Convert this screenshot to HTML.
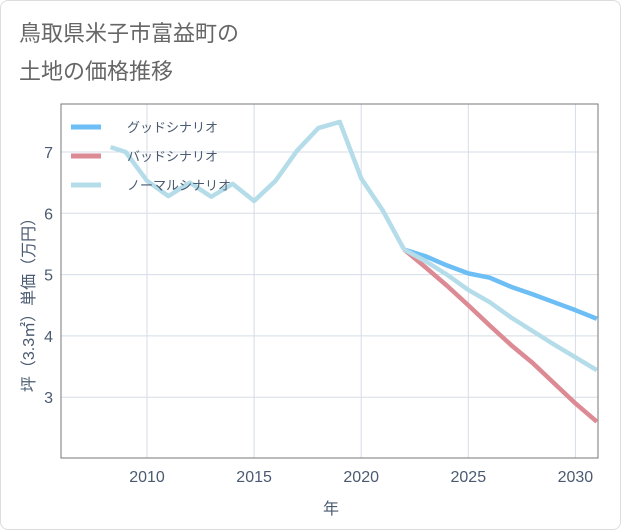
<!DOCTYPE html>
<html><head><meta charset="utf-8"><style>
body{margin:0;background:#fff;font-family:"Liberation Sans","Noto Sans CJK JP",sans-serif}
#wrap{position:relative;width:619px;height:528px;border:1px solid #ddd;border-radius:8px;overflow:hidden}
</style></head><body>
<div id="wrap">
<svg id="c" width="621" height="530"></svg>
</div>
<script>
const years=[2008.3,2009,2010,2011,2012,2013,2014,2015,2016,2017,2018,2019,2020,2021,2022];
const histVals=[7.08,7.0,6.53,6.28,6.5,6.27,6.48,6.2,6.53,7.02,7.39,7.49,6.57,6.05,5.41];
const futYears=[2022,2023,2024,2025,2026,2027,2028,2029,2030,2031];
const goodVals=[5.41,5.3,5.15,5.02,4.95,4.8,4.68,4.55,4.42,4.28];
const badVals=[5.41,5.12,4.82,4.5,4.17,3.85,3.56,3.23,2.9,2.6];
const normVals=[5.41,5.22,5.0,4.75,4.55,4.3,4.08,3.86,3.65,3.44];
const xTicks=[2010,2015,2020,2025,2030];
const yTicks=[3,4,5,6,7];
const L=60,R=597,T=103,B=457;
const X=v=>146+(v-2010)*21.42, Y=v=>151+(7-v)*61.3;
const s=document.getElementById('c'),NS='http://www.w3.org/2000/svg';
function el(t,a,p){const e=document.createElementNS(NS,t);for(const k in a)e.setAttribute(k,a[k]);(p||s).appendChild(e);return e;}
function txt(x,y,str,a){const e=el('text',Object.assign({x,y},a));e.textContent=str;return e;}
const t1=txt(18,40,'鳥取県米子市富益町の',{'font-size':22,fill:'#666'});

const t2=txt(18,78,'土地の価格推移',{'font-size':22,fill:'#666'});

const grid=el('g',{});
xTicks.forEach(v=>{el('line',{x1:X(v),x2:X(v),y1:T,y2:B,stroke:'#d5dde5'},grid);
 const t=txt(X(v),481,v,{'font-size':16,fill:'#4a5a70','text-anchor':'middle'});});
yTicks.forEach(v=>{el('line',{x1:L,x2:R,y1:Y(v),y2:Y(v),stroke:'#d5dde5'},grid);
 const t=txt(52,Y(v)+6,v,{'font-size':16,fill:'#4a5a70','text-anchor':'end'});});
const fr=el('rect',{x:L,y:T,width:R-L,height:B-T,fill:'none',stroke:'#777'});

const cp=el('clipPath',{id:'cp'});el('rect',{x:L,y:T,width:R-L,height:B-T},cp);
function line(xs,vs,col,name){const p=el('polyline',{points:xs.map((x,i)=>X(x)+','+Y(vs[i])).join(' '),fill:'none',stroke:col,'stroke-width':4.5,'stroke-linejoin':'round','clip-path':'url(#cp)'});
 }
line(futYears,goodVals,'#6cbef5','good-scenario-line');
line(futYears,badVals,'#dc8a94','bad-scenario-line');
line(futYears,normVals,'#b5dde9','normal-scenario-line');
line(years,histVals,'#b5dde9','historical-line');
[['グッドシナリオ','#6cbef5'],['バッドシナリオ','#dc8a94'],['ノーマルシナリオ','#b5dde9']].forEach((d,i)=>{
 const g=el('g',{});
 const y=126+i*29;el('line',{x1:70,x2:100,y1:y,y2:y,stroke:d[1],'stroke-width':5},g);
 txt(126,y+5,d[0],{'font-size':13,fill:'#4a5a70'},g).parentNode;});
const xt=txt(330,513,'年',{'font-size':16,fill:'#4a5a70','text-anchor':'middle'});

const yt=txt(0,0,'坪（3.3㎡）単価（万円）',{'font-size':16,fill:'#4a5a70','text-anchor':'middle',transform:'translate(33,300) rotate(-90)'});

</script>
</body></html>
